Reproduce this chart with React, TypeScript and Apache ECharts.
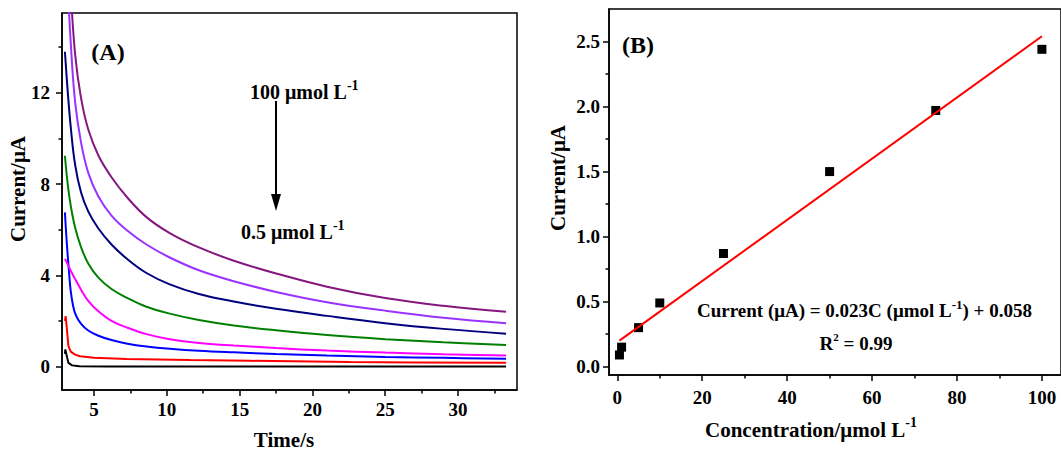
import React, { useEffect, useRef } from "react";
import * as echarts from "echarts";

// ---- Panel A: chronoamperograms (time s, current µA) ----
const curvePurple = [[3.2, 19.5], [3.4, 16.5], [3.7, 13.7], [4.1, 11.8], [4.6, 10.4], [5.3, 9.25], [6.2, 8.3], [7.3, 7.4], [8.6, 6.55], [10.2, 5.85], [12.2, 5.22], [14.6, 4.64], [17.5, 4.08], [21, 3.5], [25, 3.0], [29, 2.66], [33.3, 2.4]];
const curveViolet = [[3.0, 20], [3.2, 16.7], [3.4, 14.2], [3.7, 11.6], [4.1, 9.85], [4.6, 8.5], [5.3, 7.45], [6.2, 6.62], [7.3, 5.95], [8.6, 5.35], [10.2, 4.78], [12.2, 4.22], [14.6, 3.74], [17.5, 3.27], [21, 2.82], [25, 2.45], [29, 2.14], [33.3, 1.9]];
const curveNavy = [[3.0, 13.8], [3.2, 12.0], [3.4, 10.5], [3.7, 8.85], [4.1, 7.65], [4.6, 6.8], [5.3, 6.05], [6.2, 5.35], [7.3, 4.7], [8.6, 4.1], [10.2, 3.6], [12.2, 3.18], [14.6, 2.85], [17.5, 2.53], [21, 2.22], [25, 1.9], [29, 1.65], [33.3, 1.44]];
const curveGreen = [[3.0, 9.24], [3.2, 7.95], [3.4, 7.05], [3.7, 6.1], [4.1, 5.25], [4.6, 4.52], [5.3, 3.9], [6.2, 3.4], [7.3, 3.0], [8.6, 2.62], [10.2, 2.32], [12.2, 2.04], [14.6, 1.8], [17.5, 1.59], [21, 1.38], [25, 1.2], [29, 1.06], [33.3, 0.94]];
const curveMagenta = [[3.0, 4.72], [3.2, 4.47], [3.4, 4.2], [3.7, 3.84], [4.1, 3.38], [4.6, 2.88], [5.3, 2.42], [6.2, 2.0], [7.3, 1.7], [8.6, 1.42], [10.2, 1.2], [12.2, 1.03], [14.6, 0.92], [17.5, 0.81], [21, 0.7], [25, 0.61], [29, 0.54], [33.3, 0.48]];
const curveBlue = [[3.0, 6.76], [3.1, 5.7], [3.2, 4.8], [3.3, 4.0], [3.4, 3.3], [3.55, 2.7], [3.75, 2.25], [4.1, 1.88], [4.6, 1.58], [5.3, 1.35], [6.2, 1.16], [7.3, 1.0], [8.6, 0.88], [10.2, 0.78], [12.2, 0.69], [14.6, 0.62], [17.5, 0.55], [21, 0.48], [25, 0.42], [29, 0.38], [33.3, 0.34]];
const curveRed = [[3.0, 2.0], [3.05, 2.21], [3.12, 1.75], [3.24, 0.89], [3.4, 0.65], [3.7, 0.52], [4.04, 0.45], [5.0, 0.38], [7.25, 0.33], [11.6, 0.28], [15.7, 0.25], [22.6, 0.2], [27, 0.18], [33.3, 0.16]];
const curveBlack = [[3.0, 0.55], [3.03, 0.75], [3.15, 0.4], [3.24, 0.16], [3.5, 0.05], [4.0, 0.01], [6, 0.0], [33.3, 0.0]];

const timeTicks = [5, 10, 15, 20, 25, 30];
const timeMinorTicks = [7.5, 12.5, 17.5, 22.5, 27.5, 32.5];
const currentATicks = [0, 4, 8, 12];
const currentAMinorTicks = [2, 6, 10, 14];

// ---- Panel B: calibration ----
const concentrations = [0.5, 1, 5, 10, 25, 50, 75, 100];
const currentsB = [0.09, 0.15, 0.3, 0.49, 0.87, 1.5, 1.97, 2.44];
const fitConc = [0.5, 100];
const fitCurrent = [0.2, 2.54];
const concTicks = [0, 20, 40, 60, 80, 100];
const concMinorTicks = [10, 30, 50, 70, 90];
const currentBTicks = [0, 0.5, 1, 1.5, 2, 2.5];
const currentBMinorTicks = [0.25, 0.75, 1.25, 1.75, 2.25];

const FONT = "'Liberation Serif', 'Times New Roman', serif";

export default function App() {
  const ref = useRef<HTMLDivElement>(null);
  useEffect(() => {
    if (!ref.current) return;
    const chart = echarts.init(ref.current, undefined, { renderer: "svg" });

    const axisLine = { show: true, onZero: false, lineStyle: { color: "#000", width: 1.5 } };
    const labelStyle = { color: "#000", fontSize: 19, fontWeight: "bold", fontFamily: FONT };

    const majorX = (gridIndex: number, min: number, max: number, ticks: number[], margin: number, fmt?: (v: number) => string) => ({
      type: "value", gridIndex, min, max, position: "bottom",
      axisLine,
      axisTick: { show: true, inside: false, length: 6, customValues: ticks, lineStyle: { color: "#000", width: 1.5 } },
      axisLabel: { ...labelStyle, margin, customValues: ticks, formatter: fmt },
      splitLine: { show: false },
    });
    const minorX = (gridIndex: number, min: number, max: number, ticks: number[]) => ({
      type: "value", gridIndex, min, max, position: "bottom", offset: 0,
      axisLine: { show: false, onZero: false },
      axisTick: { show: true, inside: false, length: 3.5, customValues: ticks, lineStyle: { color: "#000", width: 1.5 } },
      axisLabel: { show: false },
      splitLine: { show: false },
    });
    const majorY = (gridIndex: number, min: number, max: number, ticks: number[], margin: number, fmt?: (v: number) => string) => ({
      type: "value", gridIndex, min, max, position: "left",
      axisLine,
      axisTick: { show: true, inside: false, length: 6, customValues: ticks, lineStyle: { color: "#000", width: 1.5 } },
      axisLabel: { ...labelStyle, margin, customValues: ticks, formatter: fmt },
      splitLine: { show: false },
    });
    const minorY = (gridIndex: number, min: number, max: number, ticks: number[]) => ({
      type: "value", gridIndex, min, max, position: "left", offset: 0,
      axisLine: { show: false, onZero: false },
      axisTick: { show: true, inside: false, length: 3.5, customValues: ticks, lineStyle: { color: "#000", width: 1.5 } },
      axisLabel: { show: false },
      splitLine: { show: false },
    });

    const curve = (data: number[][], color: string, smooth: number | boolean) => ({
      type: "line", xAxisIndex: 0, yAxisIndex: 0, data,
      showSymbol: false, symbol: "none", smooth,
      lineStyle: { color, width: 2 }, clip: true, silent: true,
    });

    const supText = (x: number, y: number, main: string, sup: string, size: number, align = "left") => ({
      type: "text", x, y,
      style: {
        text: `{m|${main}}{s|${sup}}`,
        align, verticalAlign: "middle",
        rich: {
          m: { fontSize: size, fontWeight: "bold", fontFamily: FONT, fill: "#000", lineHeight: size + 4, verticalAlign: "bottom" },
          s: { fontSize: Math.round(size * 0.68), fontWeight: "bold", fontFamily: FONT, fill: "#000", lineHeight: Math.round(size * 0.68), padding: [0, 0, Math.round(size * 0.5), 0], verticalAlign: "bottom" },
        },
      },
    });
    const plainText = (x: number, y: number, text: string, size: number, align = "center", rotation = 0) => ({
      type: "text", x, y, rotation,
      style: { text, align, verticalAlign: "middle", fontSize: size, fontWeight: "bold", fontFamily: FONT, fill: "#000" },
    });

    chart.setOption({
      animation: false,
      backgroundColor: "#fff",
      grid: [
        { left: 62, top: 13, width: 455, height: 377, show: true, borderColor: "#000", borderWidth: 1.5, backgroundColor: "transparent" },
        { left: 609, top: 9, width: 456, height: 366, show: true, borderColor: "#000", borderWidth: 1.5, backgroundColor: "transparent" },
      ],
      xAxis: [
        majorX(0, 2.8, 34.05, timeTicks, 10),
        minorX(0, 2.8, 34.05, timeMinorTicks),
        majorX(1, -1.96, 104.5, concTicks, 13),
        minorX(1, -1.96, 104.5, concMinorTicks),
      ],
      yAxis: [
        majorY(0, -1.03, 15.5, currentATicks, 12),
        minorY(0, -1.03, 15.5, currentAMinorTicks),
        majorY(1, -0.064, 2.75, currentBTicks, 9, (v: number) => v.toFixed(1)),
        minorY(1, -0.064, 2.75, currentBMinorTicks),
      ],
      series: [
        curve(curveBlack, "#000000", false),
        curve(curveRed, "#ff0000", false),
        curve(curveBlue, "#0000ff", 0.4),
        curve(curveMagenta, "#ff00ff", 0.4),
        curve(curveGreen, "#008000", 0.4),
        curve(curveNavy, "#00007f", 0.4),
        curve(curveViolet, "#9933ff", 0.4),
        curve(curvePurple, "#85177f", 0.4),
        {
          type: "line", xAxisIndex: 2, yAxisIndex: 2,
          data: fitConc.map((c, i) => [c, fitCurrent[i]]),
          showSymbol: false, symbol: "none",
          lineStyle: { color: "#ff0000", width: 2 }, silent: true,
        },
        {
          type: "scatter", xAxisIndex: 2, yAxisIndex: 2,
          data: concentrations.map((c, i) => [c, currentsB[i]]),
          symbol: "rect", symbolSize: 9,
          itemStyle: { color: "#000", opacity: 1 }, silent: true,
        },
      ],
      graphic: [
        plainText(108, 52, "(A)", 24),
        supText(250, 90, "100 μmol L", "-1", 20),
        { type: "line", shape: { x1: 276, y1: 101, x2: 276, y2: 197 }, style: { stroke: "#000", lineWidth: 2 } },
        { type: "polygon", shape: { points: [[271, 194], [281, 194], [276, 211]] }, style: { fill: "#000" } },
        supText(241, 230, "0.5 μmol L", "-1", 20),
        plainText(18, 189, "Current/μA", 21, "center", Math.PI / 2),
        plainText(284, 440, "Time/s", 21),
        plainText(638, 45, "(B)", 24),
        {
          type: "text", x: 697, y: 308,
          style: {
            text: "{m|Current (μA) = 0.023C (μmol L}{s|-1}{m|) + 0.058}",
            align: "left", verticalAlign: "middle",
            rich: {
              m: { fontSize: 19, fontWeight: "bold", fontFamily: FONT, fill: "#000", lineHeight: 23, verticalAlign: "bottom" },
              s: { fontSize: 13, fontWeight: "bold", fontFamily: FONT, fill: "#000", lineHeight: 13, padding: [0, 0, 9, 0], verticalAlign: "bottom" },
            },
          },
        },
        {
          type: "text", x: 856, y: 341,
          style: {
            text: "{m|R}{s|2}{m| = 0.99}",
            align: "center", verticalAlign: "middle",
            rich: {
              m: { fontSize: 19, fontWeight: "bold", fontFamily: FONT, fill: "#000", lineHeight: 23, verticalAlign: "bottom" },
              s: { fontSize: 11, fontWeight: "bold", fontFamily: FONT, fill: "#000", lineHeight: 11, padding: [0, 0, 10, 0], verticalAlign: "bottom" },
            },
          },
        },
        plainText(558, 178, "Current/μA", 21, "center", Math.PI / 2),
        supText(705, 428, "Concentration/μmol L", "-1", 21),
      ],
    });
    return () => chart.dispose();
  }, []);
  return <div ref={ref} style={{ position: "fixed", left: 0, top: 0, width: 1061, height: 452 }} />;
}
